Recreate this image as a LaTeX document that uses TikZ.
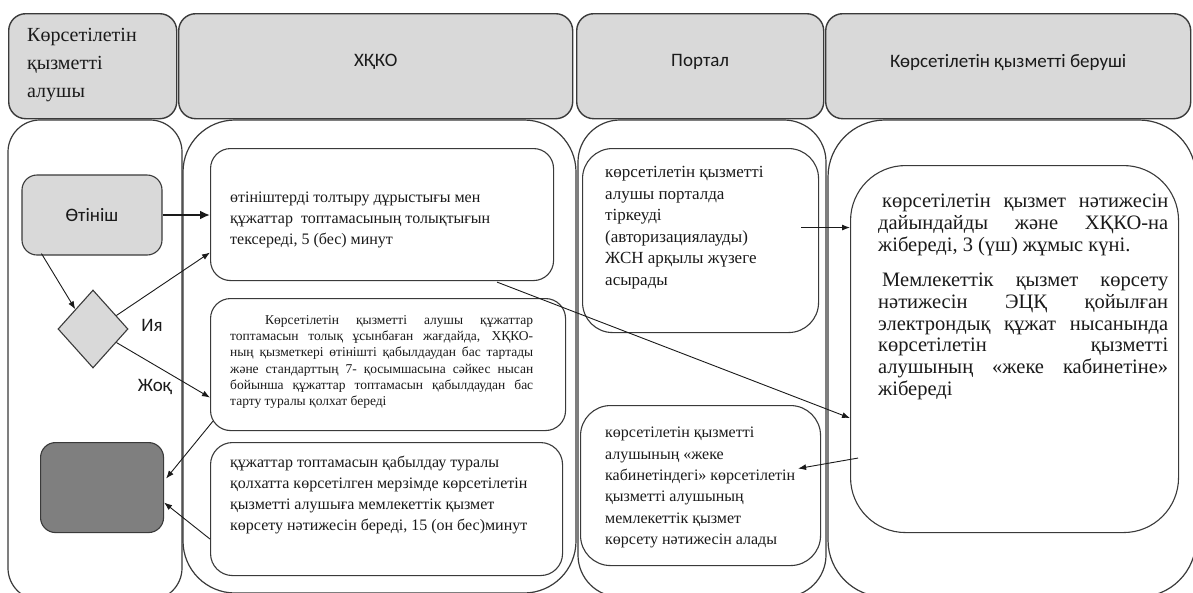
\documentclass[tikz,border=0pt]{standalone}
\usepackage{fontspec}
\setmainfont{Liberation Serif}
\newfontfamily\sansf{Carlito}
\usetikzlibrary{shapes.geometric,arrows.meta,calc}
\definecolor{hdrgray}{HTML}{D9D9D9}
\definecolor{darkbox}{HTML}{7F7F7F}
\definecolor{edge}{HTML}{3A3A3A}
\definecolor{ink}{HTML}{1A1A1A}
\begin{document}
\begin{tikzpicture}[x=1pt,y=-1pt,
  lanebox/.style={draw=edge, line width=1.2pt, fill=white, anchor=north west, inner sep=0pt, outer sep=0pt},
  hdrbox/.style={draw=edge, line width=1.4pt, fill=hdrgray, rounded corners=17pt, anchor=north west, inner sep=0pt},
  stepbox/.style={draw=edge, line width=1.1pt, fill=white, anchor=north west, inner sep=0pt},
  txt/.style={anchor=north west, inner sep=0pt, text=ink},
  sanstxt/.style={font=\sansf\fontsize{19}{22}\selectfont, text=ink},
  arr/.style={draw=ink, line width=0.9pt, -{Latex[length=8pt,width=6pt]}},
]
\useasboundingbox (0,0) rectangle (1193,592);

% lanes
\node[lanebox, rounded corners=32pt, minimum width=174pt, minimum height=480pt] (l1) at (8,120) {};
\node[lanebox, rounded corners=52pt, minimum width=393pt, minimum height=473pt] (l2) at (183,120) {};
\node[lanebox, rounded corners=42pt, minimum width=248pt, minimum height=477pt] (l3) at (578,120) {};
\node[lanebox, rounded corners=57pt, minimum width=368pt, minimum height=477pt] (l4) at (828,120) {};

% headers
\node[hdrbox, minimum width=168pt, minimum height=105pt] (h1) at (8,13) {};
\node[hdrbox, minimum width=394pt, minimum height=105pt] (h2) at (178,13) {};
\node[hdrbox, minimum width=247pt, minimum height=105pt] (h3) at (576,13) {};
\node[hdrbox, minimum width=365pt, minimum height=105pt] (h4) at (825,13) {};

\node[txt, font=\fontsize{20}{28}\selectfont, align=left] (h1t) at (27,28.5) {Көрсетілетін\\қызметті\\алушы};
\node[sanstxt] (h2t) at ($(h2.center)+(0,-4)$) {ХҚКО};
\node[sanstxt] (h3t) at ($(h3.center)+(0,-4)$) {Портал};
\node[sanstxt] (h4t) at ($(h4.center)+(0,-4)$) {Көрсетілетін қызметті беруші};

% inner nodes
\node[stepbox, fill=hdrgray, rounded corners=15pt, minimum width=140pt, minimum height=80pt, anchor=center, sanstxt] (ot) at (92,215) {Өтініш};
\node[diamond, draw=edge, line width=1.1pt, fill=hdrgray, aspect=0.9, minimum width=70pt, minimum height=78pt, inner sep=0pt] (dm) at (93,329) {};
\node[stepbox, fill=darkbox, rounded corners=15pt, minimum width=123pt, minimum height=90pt] (dk) at (40,442) {};

\node[stepbox, rounded corners=20pt, minimum width=343pt, minimum height=132pt] (b1) at (210,148) {};
\node[stepbox, rounded corners=20pt, minimum width=355pt, minimum height=132pt] (b2) at (210,298) {};
\node[stepbox, rounded corners=22pt, minimum width=352pt, minimum height=133pt] (b3) at (210,442) {};
\node[stepbox, rounded corners=30pt, minimum width=236pt, minimum height=184pt] (p1) at (582,148) {};
\node[stepbox, rounded corners=30pt, minimum width=240pt, minimum height=160pt] (p2) at (580,405) {};
\node[stepbox, rounded corners=55pt, minimum width=328pt, minimum height=367pt] (pr) at (850,165) {};

% texts
\node[txt, font=\fontsize{16}{21}\selectfont, align=left] (b1t) at (230,191.5) {өтініштерді толтыру дұрыстығы мен\\құжаттар\ \ топтамасының толықтығын\\тексереді, 5 (бес) минут};

\node[txt, font=\fontsize{13.5}{16.3}\selectfont, text width=303pt, align=justify] (b2t) at (230,315) {\hspace*{35pt}Көрсетілетін қызметті алушы құжаттар\linebreak топтамасын толық ұсынбаған жағдайда, ХҚКО-\linebreak ның қызметкері өтінішті қабылдаудан бас тартады\linebreak және стандарттың 7- қосымшасына сәйкес нысан\linebreak бойынша құжаттар топтамасын қабылдаудан бас\linebreak тарту туралы қолхат береді};

\node[txt, font=\fontsize{16}{21}\selectfont, align=left] (b3t) at (230,455.5) {құжаттар топтамасын қабылдау туралы\\қолхатта көрсетілген мерзімде көрсетілетін\\қызметті алушыға мемлекеттік қызмет\\көрсету нәтижесін береді, 15 (он бес)минут};

\node[txt, font=\fontsize{17}{21.6}\selectfont, align=left] (p1t) at (605,166) {көрсетілетін қызметті\\алушы порталда\\тіркеуді\\(авторизациялауды)\\ЖСН арқылы жүзеге\\асырады};

\node[txt, font=\fontsize{16}{21.3}\selectfont, align=left] (p2t) at (605,427) {көрсетілетін қызметті\\алушының «жеке\\кабинетіндегі» көрсетілетін\\қызметті алушының\\мемлекеттік қызмет\\көрсету нәтижесін алады};

\node[txt, font=\fontsize{20.5}{21.7}\selectfont, text width=290pt, align=justify] (prt) at (878,194) {\hspace*{4pt}көрсетілетін қызмет нәтижесін\linebreak дайындайды және ХҚКО-на\linebreak жібереді, 3 (үш) жұмыс күні.\par\vspace{14pt}\hspace*{4pt}Мемлекеттік қызмет көрсету\linebreak нәтижесін ЭЦҚ қойылған\linebreak электрондық құжат нысанында\linebreak көрсетілетін қызметті\linebreak алушының «жеке кабинетіне»\linebreak жібереді};

\node[sanstxt, inner sep=0pt] (yes) at (152,325) {Ия};
\node[sanstxt, inner sep=0pt] (no) at (155,387) {Жоқ};

% arrows
\draw[arr, line width=2.6pt, -{Latex[length=10pt,width=9pt]}] (ot.east) -- (ot.east -| b1.west);
\draw[arr] ($(ot.south west)+(20,-2)$) -- (dm.north west);
\draw[arr] (dm.30) -- ($(b1.west)+(0,38)$);
\draw[arr] (dm.-30) -- ($(b2.west)+(0,33)$);
\draw[arr] ($(b2.south west)+(3,-10)$) -- ($(dk.east)+(2,-9)$);
\draw[arr] ($(b3.west)+(0,30)$) -- ($(dk.east)+(0,15)$);
\draw[arr] ($(b1.south)+(115,1)$) -- ($(pr.west)+(0,69)$);
\coordinate (pa) at ($(p1.east)+(-18,-13)$);
\draw[arr] (pa) -- (pa -| pr.west);
\draw[arr] ($(pr.west)+(8,109)$) -- ($(p2.east)+(-23,-17)$);
\end{tikzpicture}
\end{document}
